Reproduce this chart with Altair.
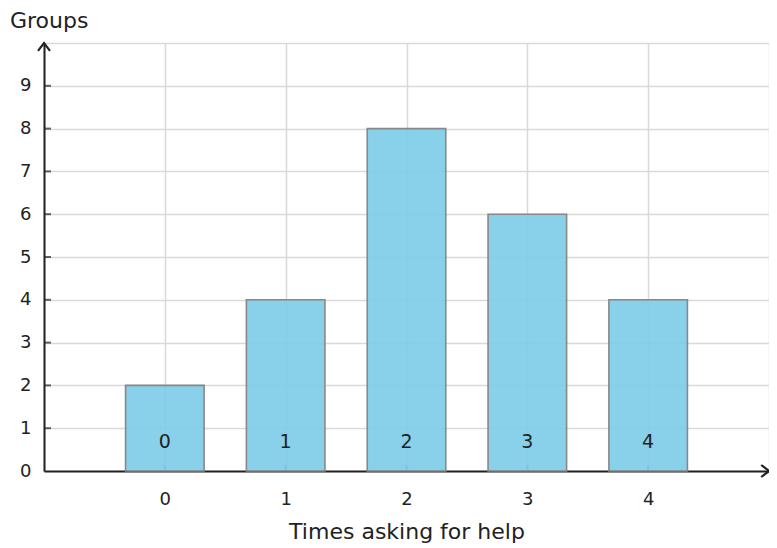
import altair as alt
import pandas as pd

# ---- data ----
times = [0, 1, 2, 3, 4]
groups = [2, 4, 8, 6, 4]
x_grid = [-1, 0, 1, 2, 3, 4, 5]
y_grid = [0, 1, 2, 3, 4, 5, 6, 7, 8, 9, 10]
y_ticks = [1, 2, 3, 4, 5, 6, 7, 8, 9]
x_title = "Times asking for help"
y_title = "Groups"

FONT = "DejaVu Sans"
INK = "#222222"
BAR_HALF = 0.325

bars_df = pd.DataFrame({"t": times, "n": groups})
ytick_df = pd.DataFrame({"v": y_ticks})
xtick_df = pd.DataFrame({"t": times})
arrow_df = pd.DataFrame({"x": [5, -1], "y": [0, 10], "shape": ["x", "y"]})
title_df = pd.DataFrame({"label": [y_title]})

xscale = alt.Scale(domain=[-1, 5], nice=False, zero=False)
yscale = alt.Scale(domain=[0, 10], nice=False)

xaxis = alt.Axis(
    values=x_grid, format="d",
    labelExpr="datum.value >= 0 && datum.value <= 4 ? datum.label : ''",
    grid=True, ticks=False, title=x_title,
    labelPadding=19, titlePadding=13,
)
yaxis = alt.Axis(
    values=y_grid, format="d",
    labelExpr="datum.value <= 9 ? datum.label : ''",
    grid=True, ticks=False, title=None, labelPadding=13,
)

xticks = alt.Chart(xtick_df).mark_tick(
    orient="vertical", size=12, thickness=2, color="#3f6272", clip=True
).encode(
    x=alt.X("t:Q", scale=xscale, axis=xaxis),
    y=alt.Y("zero:Q", scale=yscale, axis=yaxis),
).transform_calculate(zero="0")

bars = alt.Chart(bars_df).transform_calculate(
    lo=f"datum.t - {BAR_HALF}", hi=f"datum.t + {BAR_HALF}"
).mark_rect(
    fill="#7ccbe8", fillOpacity=0.9, stroke="#888888", strokeWidth=1.6
).encode(
    x=alt.X("lo:Q", scale=xscale),
    x2="hi:Q",
    y=alt.Y("n:Q", scale=yscale),
    y2=alt.datum(0),
)

bar_labels = alt.Chart(bars_df).transform_calculate(ly="0.68").mark_text(
    font=FONT, fontSize=19, color=INK, baseline="middle", align="center"
).encode(
    x=alt.X("t:Q", scale=xscale),
    y=alt.Y("ly:Q", scale=yscale),
    text="t:N",
)

yticks = alt.Chart(ytick_df).transform_calculate(left="-1").mark_tick(
    orient="horizontal", size=14, thickness=2, color=INK, clip=True
).encode(
    x=alt.X("left:Q", scale=xscale),
    y=alt.Y("v:Q", scale=yscale),
)

arrow_x = alt.Chart(arrow_df).transform_filter("datum.shape == 'x'").mark_point(
    shape="M -1.3 -1 L 0 0 L -1.3 1", filled=False, stroke=INK,
    strokeWidth=2.2, size=144, opacity=1, clip=False
).encode(x=alt.X("x:Q", scale=xscale), y=alt.Y("y:Q", scale=yscale))

arrow_y = alt.Chart(arrow_df).transform_filter("datum.shape == 'y'").mark_point(
    shape="M -1 1.3 L 0 0 L 1 1.3", filled=False, stroke=INK,
    strokeWidth=2.2, size=144, opacity=1, clip=False
).encode(x=alt.X("x:Q", scale=xscale), y=alt.Y("y:Q", scale=yscale))

title_txt = alt.Chart(title_df).mark_text(
    font=FONT, fontSize=22, color=INK, align="left", baseline="top"
).encode(x=alt.value(-34), y=alt.value(-32), text="label:N")

chart = alt.layer(
    xticks, bars, bar_labels, yticks, arrow_x, arrow_y, title_txt
).properties(
    width=725, height=428,
    autosize=alt.AutoSizeParams(type="none"),
    padding={"left": 36, "top": 35, "right": 0, "bottom": 80},
).configure_view(stroke=None).configure_axis(
    labelFont=FONT, labelFontSize=18, labelColor=INK,
    titleFont=FONT, titleFontSize=22, titleColor=INK, titleFontWeight="normal",
    domainColor=INK, domainWidth=2,
    gridColor="#d9d9d9", gridWidth=1.5, gridOpacity=1,
)

chart.save("out.html", embed_options={"renderer": "svg", "actions": False})
